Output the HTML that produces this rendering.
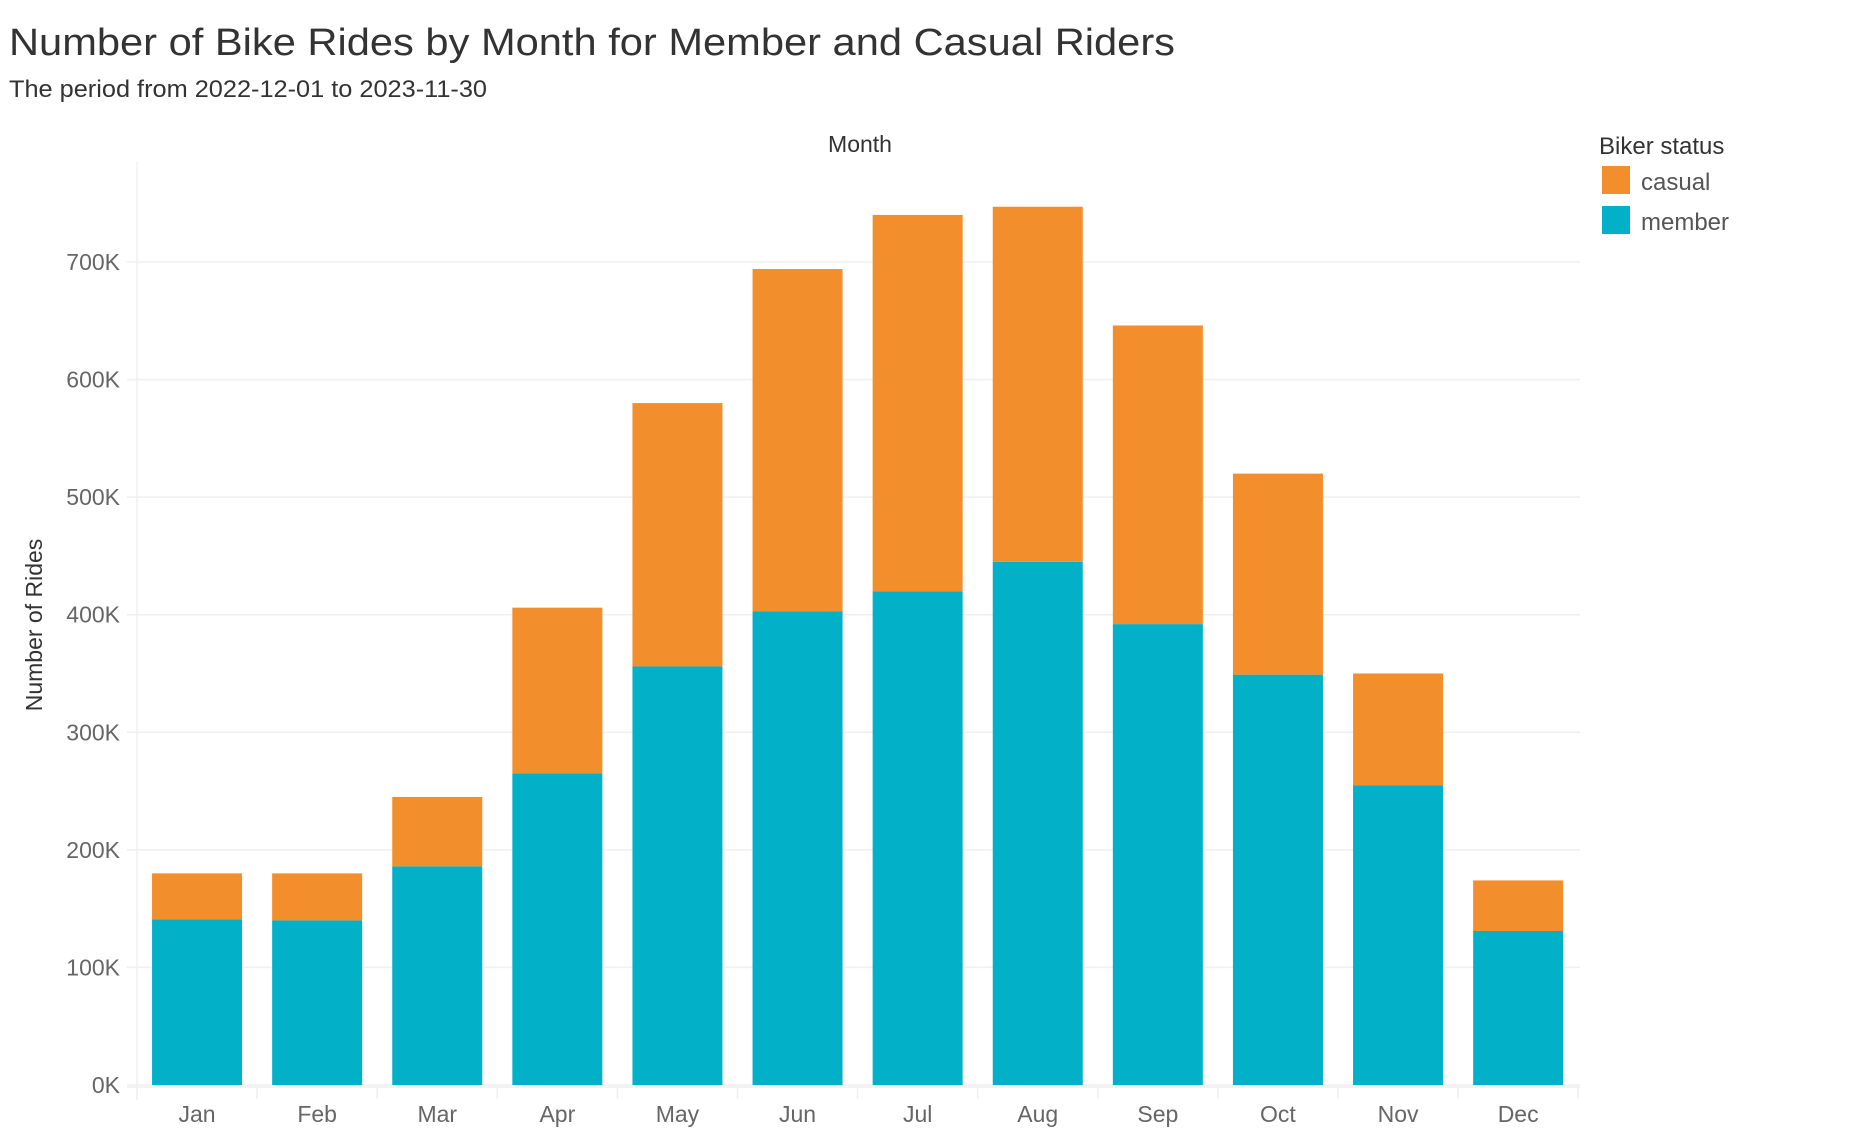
<!DOCTYPE html>
<html><head><meta charset="utf-8"><style>
html,body{margin:0;padding:0;background:#fff;}
svg{display:block;font-family:"Liberation Sans",sans-serif;}
</style></head><body>
<svg id="chart" width="1876" height="1130" viewBox="0 0 1876 1130">
<text x="9" y="55" font-size="38" fill="#333" textLength="1166" lengthAdjust="spacingAndGlyphs">Number of Bike Rides by Month for Member and Casual Riders</text>
<text x="9" y="97" font-size="24" fill="#333" textLength="478" lengthAdjust="spacingAndGlyphs">The period from 2022-12-01 to 2023-11-30</text>
<text x="860" y="152" font-size="23" fill="#333" text-anchor="middle">Month</text>
<text transform="translate(42,625) rotate(-90)" font-size="23" fill="#333" text-anchor="middle">Number of Rides</text>
<g id="grid"></g><g id="bars"></g><g id="xaxis"></g>
<g>
<text x="1599" y="154" font-size="24" fill="#333">Biker status</text>
<rect x="1602" y="166" width="28" height="28" fill="#F28E2B"/>
<text x="1641" y="190" font-size="24" fill="#555">casual</text>
<rect x="1602" y="206" width="28" height="28" fill="#02B0C7"/>
<text x="1641" y="230" font-size="24" fill="#555">member</text>
</g>
</svg>
<script>
const months=["Jan","Feb","Mar","Apr","May","Jun","Jul","Aug","Sep","Oct","Nov","Dec"];
const member=[141000,140000,186000,265000,356000,403000,420000,445000,392000,349000,255000,131000];
const casual=[39000,40000,59000,141000,224000,291000,320000,302000,254000,171000,95000,43000];
const yTicks=[0,100000,200000,300000,400000,500000,600000,700000];
const yTickLabels=["0K","100K","200K","300K","400K","500K","600K","700K"];
const NS="http://www.w3.org/2000/svg";
const x0=137,band=120.1,barW=90,y0=1085,perUnit=(1085-262)/700000;
const y=v=>y0-v*perUnit;
const xb=i=>x0+i*band+(band-barW)/2;
function mk(t,a,p){const e=document.createElementNS(NS,t);for(const k in a)e.setAttribute(k,a[k]);p.appendChild(e);return e;}
const grid=document.getElementById('grid'),bars=document.getElementById('bars'),xa=document.getElementById('xaxis');
const yl=mk('line',{x1:x0,x2:x0,y1:162,y2:1100,stroke:'#f0f0f0','stroke-width':1.5},grid);


yTicks.forEach((v,i)=>{
 const g=mk('line',{x1:x0-10,x2:1580,y1:y(v),y2:y(v),stroke:'#efefef','stroke-width':1.5},grid);
 
 
 const t=mk('text',{x:120,y:y(v)+8,'font-size':23,fill:'#666','text-anchor':'end'},grid);
 t.textContent=yTickLabels[i];
 
 
});
const xl=mk('line',{x1:x0-10,x2:1580,y1:y0+2,y2:y0+2,stroke:'#efefef','stroke-width':1.5},xa);


months.forEach((m,i)=>{
 const mb=mk('rect',{x:xb(i),width:barW,y:y(member[i]),height:member[i]*perUnit,fill:'#02B0C7'},bars);
 
 
 const cb=mk('rect',{x:xb(i),width:barW,y:y(member[i]+casual[i]),height:casual[i]*perUnit,fill:'#F28E2B'},bars);
 
 
 const tk=mk('line',{x1:x0+i*band,x2:x0+i*band,y1:y0+2,y2:y0+14,stroke:'#efefef','stroke-width':1.5},xa);
 
 
 const t=mk('text',{x:x0+i*band+band/2,y:1122,'font-size':23,fill:'#666','text-anchor':'middle'},xa);
 t.textContent=m;
 
 
});
const lt=mk('line',{x1:x0+12*band,x2:x0+12*band,y1:y0+2,y2:y0+14,stroke:'#efefef','stroke-width':1.5},xa);


</script>
</body></html>
